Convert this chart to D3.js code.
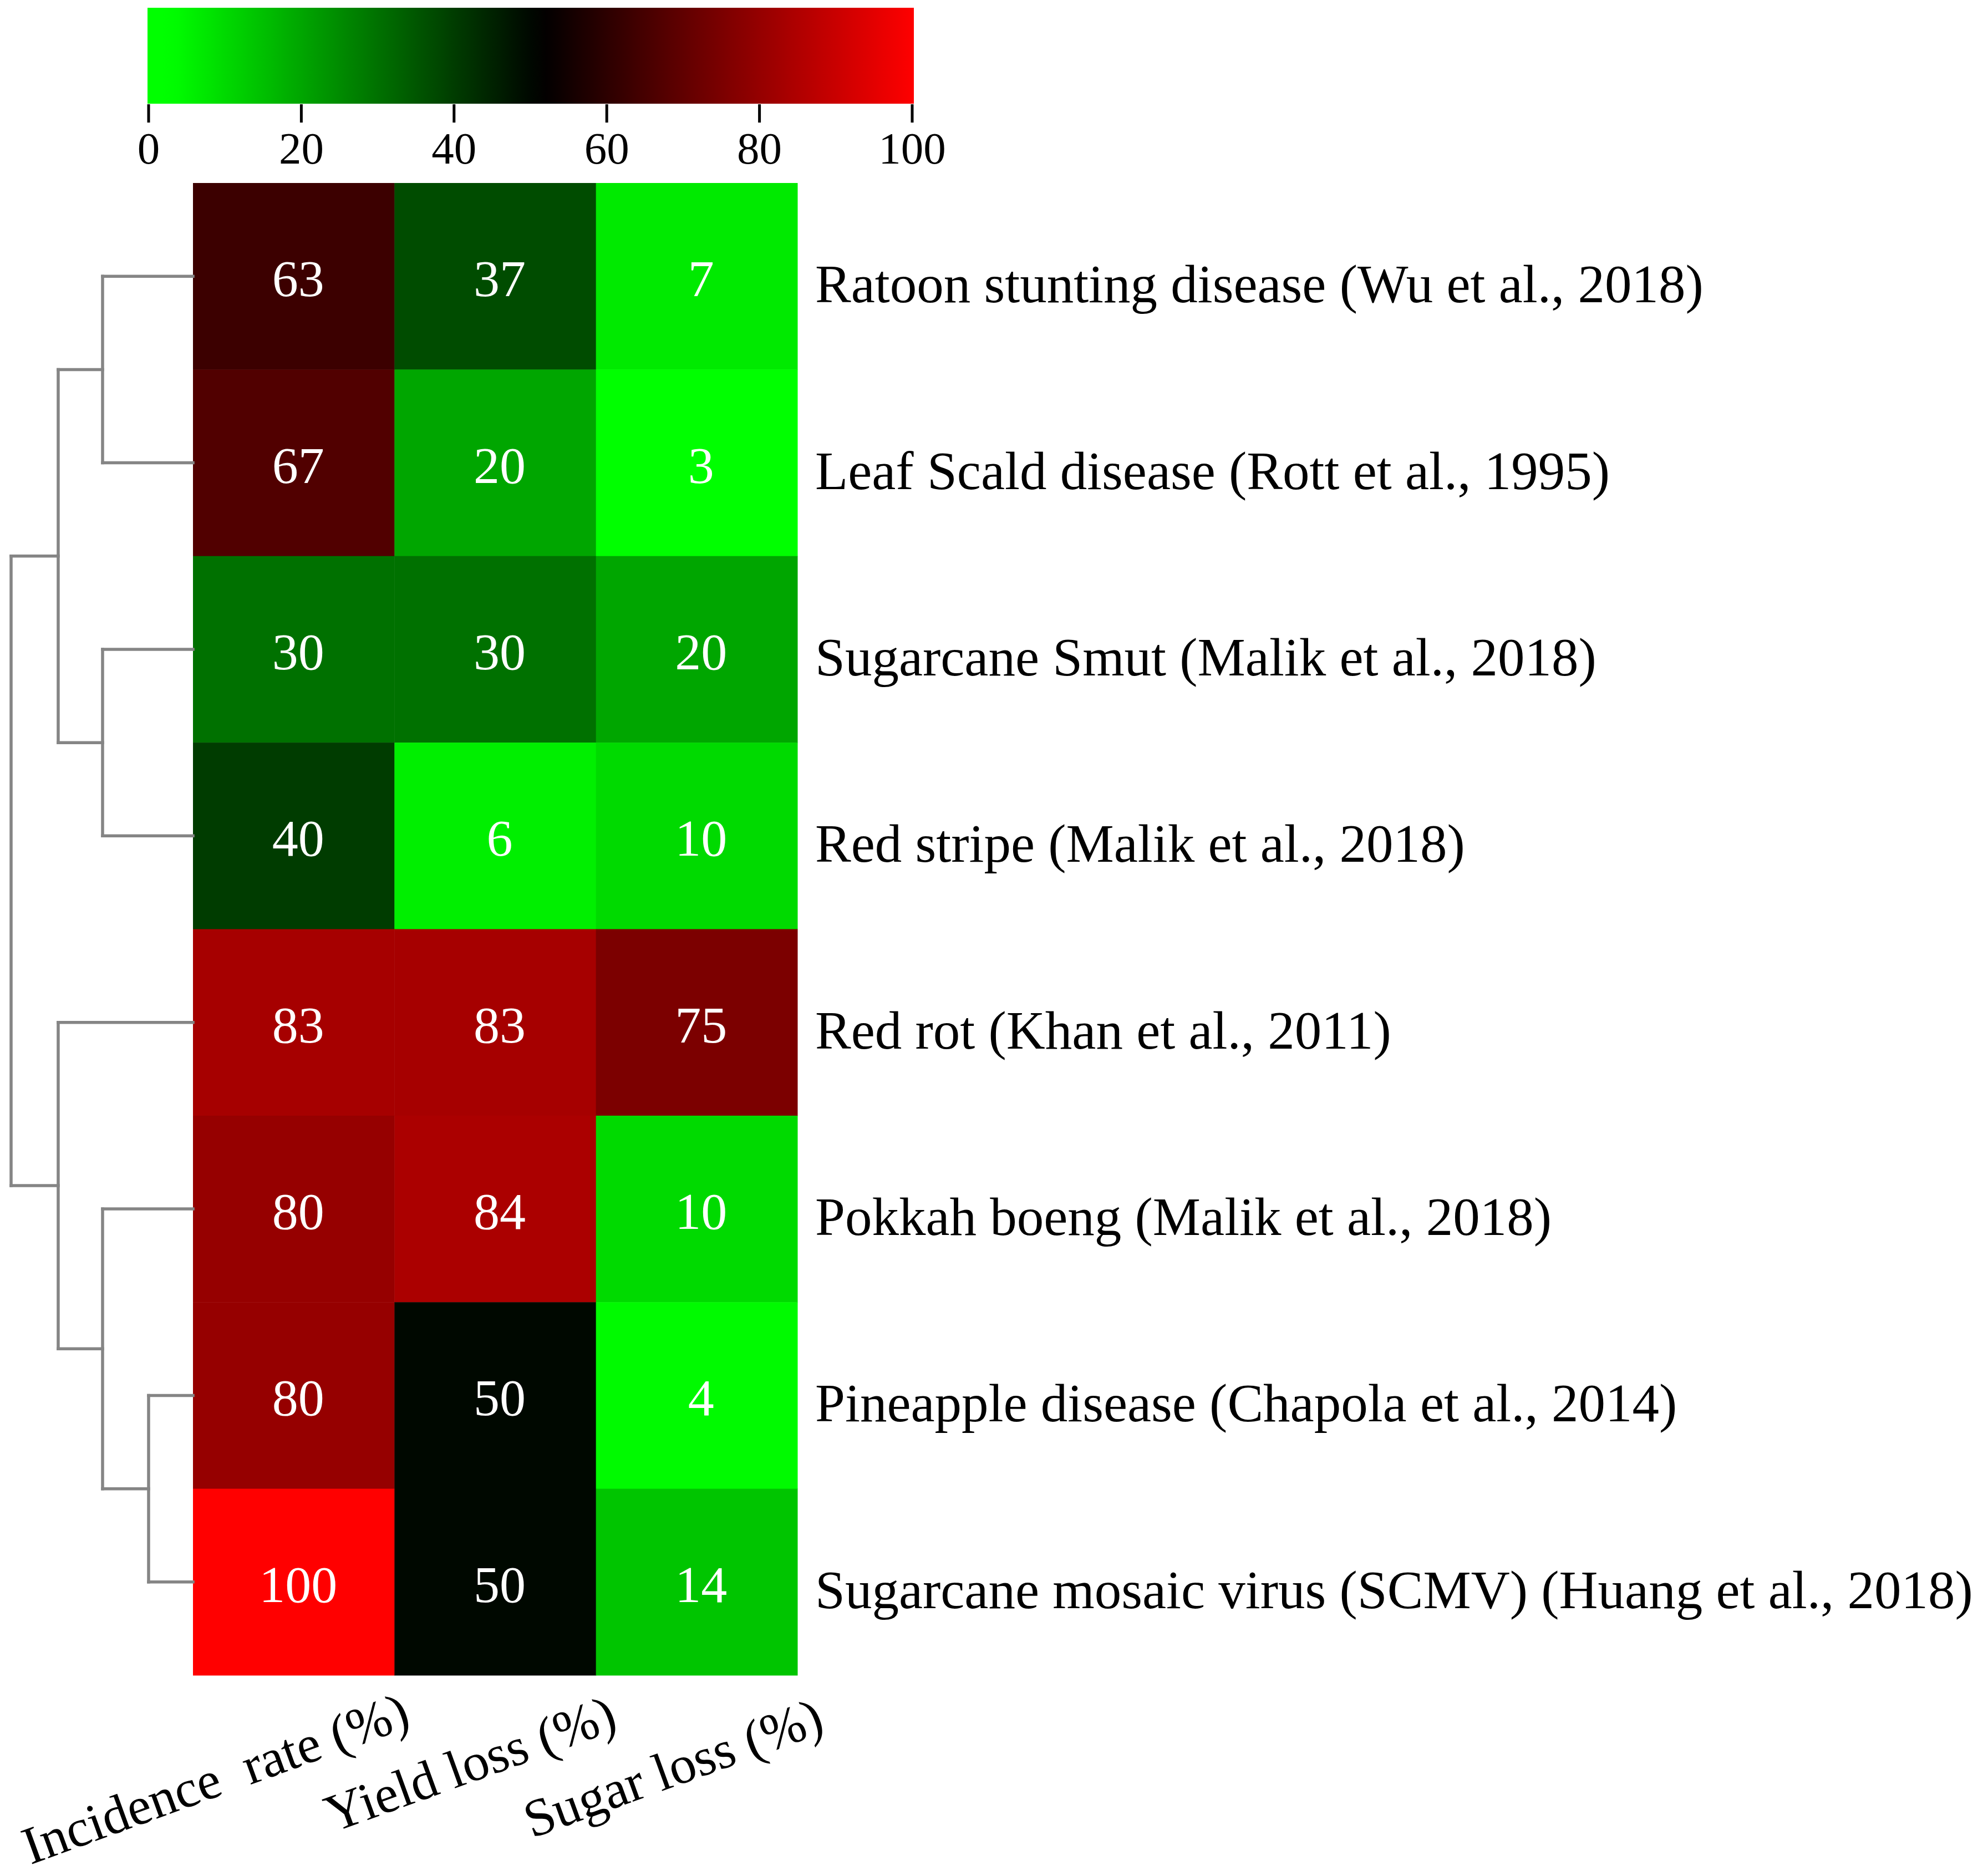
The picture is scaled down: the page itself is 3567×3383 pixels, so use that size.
<!DOCTYPE html>
<html>
<head>
<meta charset="utf-8">
<script src="https://cdn.jsdelivr.net/npm/d3@7"></script>
<style>
  html, body { margin: 0; padding: 0; background: #ffffff; }
  svg { display: block; }
</style>
</head>
<body>
<script>
// ---------------- DATA ----------------
const diseases = [
  "Ratoon stunting disease (Wu et al., 2018)",
  "Leaf Scald disease (Rott et al., 1995)",
  "Sugarcane Smut (Malik et al., 2018)",
  "Red stripe (Malik et al., 2018)",
  "Red rot (Khan et al., 2011)",
  "Pokkah boeng (Malik et al., 2018)",
  "Pineapple disease (Chapola et al., 2014)",
  "Sugarcane mosaic virus (SCMV) (Huang et al., 2018)"
];
const columns = ["Incidence  rate (%)", "Yield loss (%)", "Sugar loss (%)"];
const incidenceRate = [63, 67, 30, 40, 83, 80, 80, 100];
const yieldLoss     = [37, 20, 30, 6, 83, 84, 50, 50];
const sugarLoss     = [7, 3, 20, 10, 75, 10, 4, 14];
const keyTicks = [0, 20, 40, 60, 80, 100];

// dendrogram merges (row clustering): children are leaf indices or merge ids "m#"; h = merge height
const merges = [
  { id: "m1", left: 6, right: 7, h: 24.4 },
  { id: "m2", left: 0, right: 1, h: 49.7 },
  { id: "m3", left: 2, right: 3, h: 49.7 },
  { id: "m4", left: 5, right: "m1", h: 49.7 },
  { id: "m5", left: "m2", right: "m3", h: 74.1 },
  { id: "m6", left: 4, right: "m4", h: 74.1 },
  { id: "m7", left: "m5", right: "m6", h: 100 }
];

// ---------------- LAYOUT ----------------
const W = 3567, H = 3383;
const FONT = "'Liberation Serif', 'Times New Roman', Times, serif";

const svg = d3.select("body").append("svg")
  .attr("width", W).attr("height", H)
  .attr("viewBox", `0 0 ${W} ${H}`);
svg.append("rect").attr("width", W).attr("height", H).attr("fill", "#ffffff");

const series = [incidenceRate, yieldLoss, sugarLoss];
const cells = [];
diseases.forEach((d, i) => {
  columns.forEach((c, j) => cells.push({ row: d, col: c, colIndex: j, value: series[j][i] }));
});

const x = d3.scaleBand().domain(columns).range([348, 1438]).padding(0);
const y = d3.scaleBand().domain(diseases).range([330, 3021]).padding(0);

const allVals = series.flat();
const vMin = d3.min(allVals), vMax = d3.max(allVals);
const color = d3.scaleLinear()
  .domain([vMin, (vMin + vMax) / 2, vMax])
  .range(["#00ff00", "#000000", "#ff0000"])
  .interpolate(d3.interpolateRgb)
  .clamp(true);

// ---------------- COLOR KEY ----------------
const xKey = d3.scaleLinear().domain([0, 100]).range([268, 1645]);
const defs = svg.append("defs");
const grad = defs.append("linearGradient").attr("id", "keygrad")
  .attr("x1", "0%").attr("x2", "100%").attr("y1", "0%").attr("y2", "0%");
d3.range(0, 101, 2).forEach(v => {
  grad.append("stop").attr("offset", v + "%").attr("stop-color", color(v));
});
svg.append("rect")
  .attr("x", xKey(0) - 2).attr("y", 14)
  .attr("width", xKey(100) - xKey(0) + 5).attr("height", 173)
  .attr("fill", "url(#keygrad)");

const keyAxis = svg.append("g");
keyAxis.selectAll("line.tick").data(keyTicks).enter().append("line")
  .attr("class", "tick")
  .attr("x1", d => xKey(d)).attr("x2", d => xKey(d))
  .attr("y1", 188).attr("y2", 221)
  .attr("stroke", "#000").attr("stroke-width", 5);
keyAxis.selectAll("text").data(keyTicks).enter().append("text")
  .attr("x", d => xKey(d)).attr("y", 295)
  .attr("text-anchor", "middle")
  .attr("font-family", FONT).attr("font-size", 81)
  .attr("fill", "#000")
  .text(d => d);

// ---------------- HEATMAP ----------------
svg.append("g").selectAll("rect").data(cells).enter().append("rect")
  .attr("x", d => x(d.col))
  .attr("y", d => y(d.row))
  .attr("width", x.bandwidth() + 0.5)
  .attr("height", y.bandwidth() + 0.5)
  .attr("fill", d => color(d.value));

svg.append("g").selectAll("text").data(cells).enter().append("text")
  .attr("x", d => x(d.col) + x.bandwidth() / 2 + 8)
  .attr("y", d => y(d.row) + y.bandwidth() / 2 + 36)
  .attr("text-anchor", "middle")
  .attr("font-family", FONT).attr("font-size", 94)
  .attr("fill", "#ffffff")
  .text(d => d.value);

// row labels
svg.append("g").selectAll("text").data(diseases).enter().append("text")
  .attr("x", x.range()[1] + 32)
  .attr("y", d => y(d) + y.bandwidth() / 2 + 47)
  .attr("font-family", FONT).attr("font-size", 97)
  .attr("fill", "#000")
  .text(d => d);

// column labels (rotated)
svg.append("g").selectAll("text").data(columns).enter().append("text")
  .attr("transform", (d, j) => `translate(${x(d) + x.bandwidth() / 2 + 214 + j * 10},${3112 + j * 5}) rotate(-20)`)
  .attr("text-anchor", "end")
  .attr("font-family", FONT).attr("font-size", 96)
  .attr("fill", "#000")
  .style("white-space", "pre")
  .attr("xml:space", "preserve")
  .text(d => d);

// ---------------- DENDROGRAM ----------------
const hx = d3.scaleLinear().domain([0, 100]).range([x.range()[0], 20]);
const nodePos = {};
diseases.forEach((d, i) => { nodePos[i] = { x: hx(0), y: y(d) + y.bandwidth() / 2 }; });
const dendroLines = [];
merges.forEach(m => {
  const a = nodePos[m.left], b = nodePos[m.right];
  const mx = hx(m.h);
  dendroLines.push([[a.x, a.y], [mx, a.y]]);
  dendroLines.push([[b.x, b.y], [mx, b.y]]);
  dendroLines.push([[mx, a.y], [mx, b.y]]);
  nodePos[m.id] = { x: mx, y: (a.y + b.y) / 2 };
});
const line = d3.line();
svg.append("g").selectAll("path").data(dendroLines).enter().append("path")
  .attr("d", d => line(d))
  .attr("fill", "none")
  .attr("stroke", "#858585")
  .attr("stroke-width", 5.5)
  .attr("stroke-linecap", "square");
</script>
</body>
</html>
